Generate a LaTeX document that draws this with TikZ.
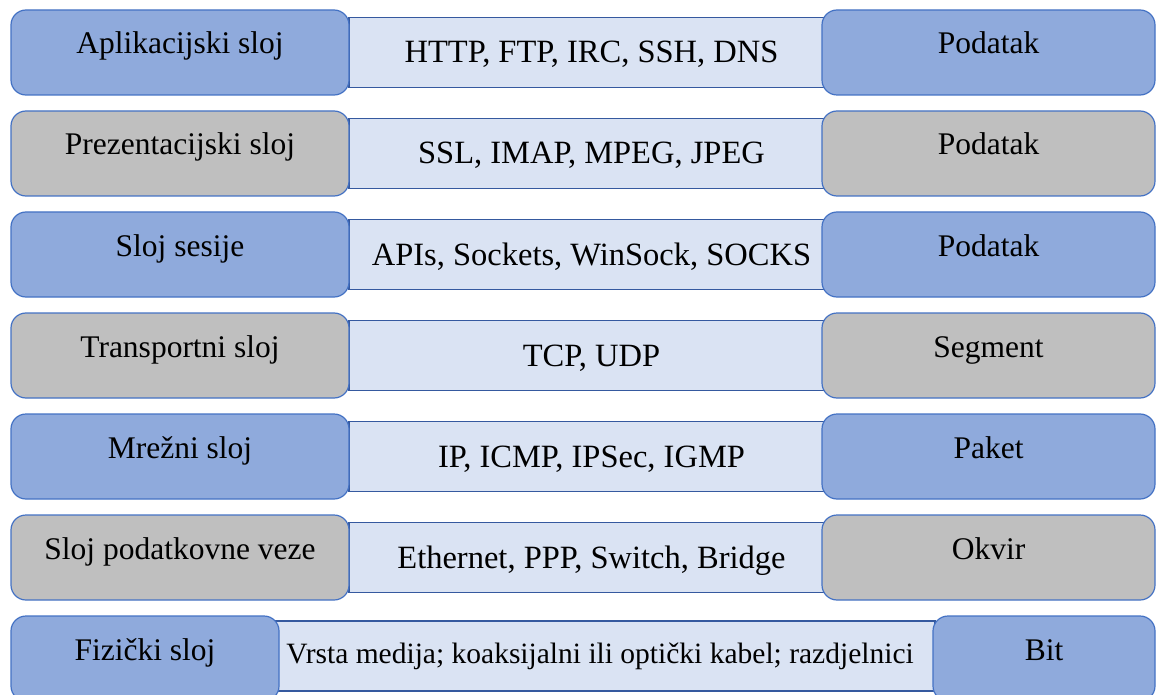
\documentclass[tikz,border=0pt]{standalone}
\usepackage{fontspec}
\setmainfont{Liberation Serif}
\definecolor{layerblue}{HTML}{8FAADC}
\definecolor{layergray}{HTML}{BFBFBF}
\definecolor{protofill}{HTML}{DAE3F3}
\definecolor{edgeblue}{HTML}{4472C4}
\definecolor{edgedark}{HTML}{35599F}
\tikzset{
  sidebox/.style={draw=edgeblue, line width=1.2pt, rounded corners=15pt, minimum height=85pt,
    text height=21pt, text depth=18pt, inner sep=0pt},
  bluebox/.style={sidebox, fill=layerblue},
  graybox/.style={sidebox, fill=layergray},
  protobox/.style={draw=edgedark, line width=1.5pt, fill=protofill, minimum height=70pt,
    text height=21pt, text depth=0pt, inner sep=0pt, font=\fontsize{32.5}{36}\selectfont},
}
\begin{document}
\begin{tikzpicture}[x=1pt,y=-1pt,font=\fontsize{31.5}{36}\selectfont]
\useasboundingbox[fill=white] (0,0) rectangle (1156,695);

% Aplikacijski sloj
\node (p1) [protobox, minimum width=485pt] at (591.5,52.5) {HTTP, FTP, IRC, SSH, DNS};
\node (l1) [bluebox, minimum width=338pt] at (180,52.5) {Aplikacijski sloj};
\node (d1) [bluebox, minimum width=333pt] at (988.5,52.5) {Podatak};

% Prezentacijski sloj
\node (p2) [protobox, minimum width=485pt] at (591.5,153.5) {SSL, IMAP, MPEG, JPEG};
\node (l2) [graybox, minimum width=338pt] at (180,153.5) {Prezentacijski sloj};
\node (d2) [graybox, minimum width=333pt] at (988.5,153.5) {Podatak};

% Sloj sesije
\node (p3) [protobox, minimum width=485pt] at (591.5,254.5) {APIs, Sockets, WinSock, SOCKS};
\node (l3) [bluebox, minimum width=338pt] at (180,254.5) {Sloj sesije};
\node (d3) [bluebox, minimum width=333pt] at (988.5,254.5) {Podatak};

% Transportni sloj
\node (p4) [protobox, minimum width=485pt] at (591.5,355.5) {TCP, UDP};
\node (l4) [graybox, minimum width=338pt] at (180,355.5) {Transportni sloj};
\node (d4) [graybox, minimum width=333pt] at (988.5,355.5) {Segment};

% Mrezni sloj
\node (p5) [protobox, minimum width=485pt] at (591.5,456.5) {IP, ICMP, IPSec, IGMP};
\node (l5) [bluebox, minimum width=338pt] at (180,456.5) {Mrežni sloj};
\node (d5) [bluebox, minimum width=333pt] at (988.5,456.5) {Paket};

% Sloj podatkovne veze
\node (p6) [protobox, minimum width=485pt] at (591.5,557.5) {Ethernet, PPP, Switch, Bridge};
\node (l6) [graybox, minimum width=338pt] at (180,557.5) {Sloj podatkovne veze};
\node (d6) [graybox, minimum width=333pt] at (988.5,557.5) {Okvir};

% Fizicki sloj
\node (p7) [protobox, minimum width=670pt, text depth=6pt, font=\fontsize{29.5}{34}\selectfont] at (600,656) {Vrsta medija; koaksijalni ili optički kabel; razdjelnici};
\node (l7) [bluebox, minimum width=268pt] at (145,658.5) {Fizički sloj};
\node (d7) [bluebox, minimum width=222pt] at (1044,658.5) {Bit};

\end{tikzpicture}
\end{document}
